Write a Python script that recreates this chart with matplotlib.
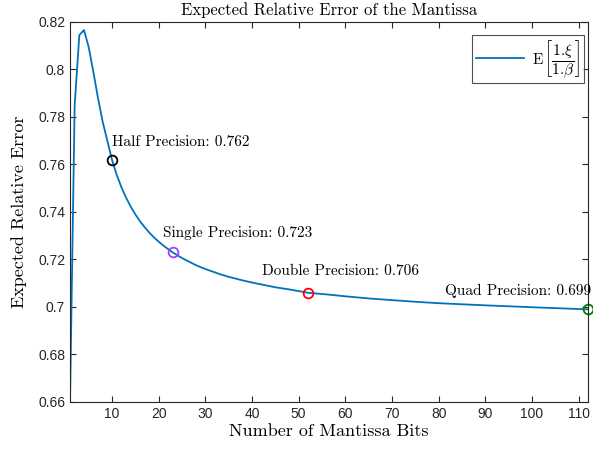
import numpy as np
import matplotlib
matplotlib.use("Agg")
import matplotlib.pyplot as plt
from matplotlib.ticker import FormatStrFormatter

plt.rcParams['mathtext.fontset'] = 'cm'
plt.rcParams['font.family'] = ['Liberation Sans', 'DejaVu Sans']

# expected relative error vs. number of mantissa bits
bits = [1, 2, 3, 4, 5, 6, 7, 8, 9, 10, 11, 12, 13, 14, 15, 16, 17, 18, 19,
        20, 21, 22, 23, 25, 28, 30, 33, 35, 38, 40, 45, 48, 52, 56, 60, 65,
        70, 75, 80, 90, 100, 112]
err = [0.660, 0.785, 0.8145, 0.8166, 0.8095, 0.799, 0.788, 0.778, 0.770,
       0.762, 0.7557, 0.7505, 0.7461, 0.7423, 0.739, 0.7361, 0.7336, 0.7313,
       0.7293, 0.7275, 0.7259, 0.7244, 0.723, 0.7206, 0.7176, 0.716, 0.7139,
       0.7127, 0.7112, 0.7103, 0.7083, 0.7074, 0.706, 0.7053, 0.7045, 0.7036,
       0.7029, 0.7022, 0.7016, 0.7007, 0.6999, 0.699]

# IEEE formats
fmt_names = ['Half', 'Single', 'Double', 'Quad']
fmt_bits = [10, 23, 52, 112]
fmt_err = [0.762, 0.723, 0.706, 0.699]
fmt_colors = ['black', '#9b45ff', '#ff0000', '#008000']
# label anchor (x, y) in data units
label_pos = [(10, 0.7695), (20.9, 0.7312), (42.1, 0.7152), (81.4, 0.7067)]

fig = plt.figure(figsize=(5.93, 4.54), dpi=100)
ax = fig.add_axes([70 / 593, 52 / 454, 518 / 593, 380 / 454])

line, = ax.plot(bits, err, color='#0072BD', lw=1.3,
                label=r'$\mathrm{E}\,\left[\dfrac{1.\!\xi}{1.\!\beta}\right]$')

for name, b, e, c, (tx, ty) in zip(fmt_names, fmt_bits, fmt_err, fmt_colors, label_pos):
    ax.plot(b, e, 'o', mfc='none', mec=c, ms=7, mew=1.3, clip_on=False)
    ax.text(tx, ty, f'{name} Precision: {e:.3f}', fontfamily='cmr10',
            fontsize=11, va='center', ha='left')

ax.set_xlim(1, 112)
ax.set_ylim(0.66, 0.82)
ax.set_xticks(np.arange(10, 111, 10))
ax.set_yticks(np.arange(0.66, 0.8201, 0.02))
ax.yaxis.set_major_formatter(FormatStrFormatter('%g'))
ax.tick_params(direction='in', top=True, right=True, length=4,
               labelsize=10, colors='#262626')
for s in ax.spines.values():
    s.set_color('#262626')
    s.set_linewidth(0.8)

ax.set_title('Expected Relative Error of the Mantissa', fontfamily='cmr10',
             fontsize=12, pad=5)
ax.set_xlabel('Number of Mantissa Bits', fontfamily='cmr10', fontsize=13,
              labelpad=2)
ax.set_ylabel('Expected Relative Error', fontfamily='cmr10', fontsize=13,
              labelpad=8)

leg = ax.legend(loc='upper right', bbox_to_anchor=(0.992, 0.966),
                fancybox=False, edgecolor='#262626', fontsize=11,
                handlelength=3.2, borderaxespad=0, borderpad=0.25,
                handletextpad=0.5)
leg.get_frame().set_linewidth(0.8)

fig.savefig('out.png', dpi=100)
